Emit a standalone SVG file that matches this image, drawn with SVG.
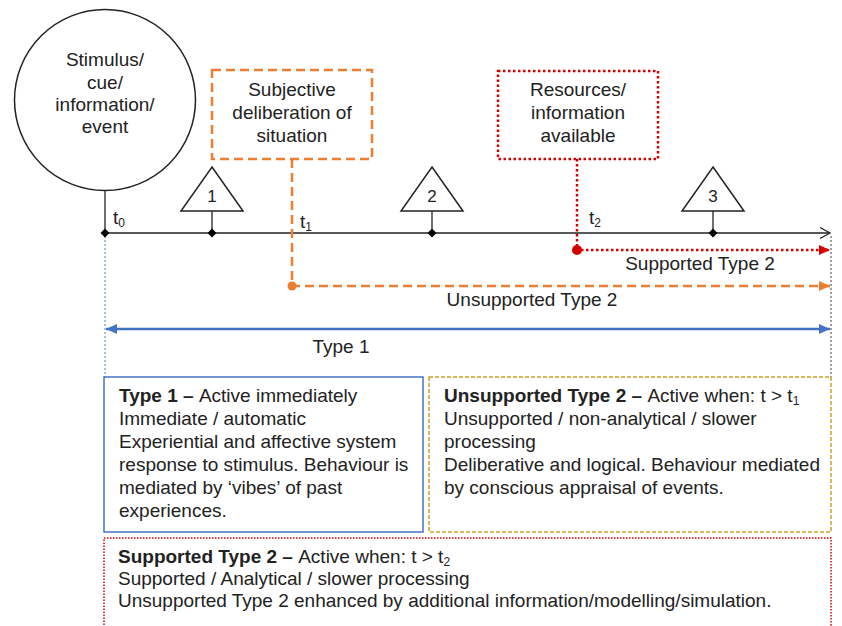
<svg xmlns="http://www.w3.org/2000/svg" width="842" height="626" viewBox="0 0 842 626">
<style>
text{font-family:"Liberation Sans",Arial,sans-serif;fill:#222;}
.lbl{font-size:19px;}
.c{text-anchor:middle;}
.b{font-weight:bold;}
.sub{font-size:12px;}
.tl{stroke:#222;stroke-width:1.3;fill:none;}
.tri{fill:#fff;stroke:#222;stroke-width:1.5;}
.dm{fill:#000;}
</style>
<defs>
<marker id="ahRed" markerUnits="userSpaceOnUse" markerWidth="11" markerHeight="10" refX="11" refY="5" orient="auto"><path d="M0,0 L11,5 L0,10 z" fill="#D40000"/></marker>
<marker id="ahOr" markerUnits="userSpaceOnUse" markerWidth="11" markerHeight="10" refX="11" refY="5" orient="auto"><path d="M0,0 L11,5 L0,10 z" fill="#ED7D31"/></marker>
<marker id="ahBl" markerUnits="userSpaceOnUse" markerWidth="11" markerHeight="10" refX="11" refY="5" orient="auto-start-reverse"><path d="M0,0 L11,5 L0,10 z" fill="#4472C4"/></marker>
</defs>

<g id="connectors">
  <line class="tl" x1="105" y1="190" x2="105" y2="233"/>
  <line class="tl" x1="105" y1="233" x2="830" y2="233"/>
  <polyline class="tl" points="820,227.5 830,233 820,238.5"/>
  <line class="tl" x1="212" y1="211" x2="212" y2="233"/>
  <line class="tl" x1="432" y1="211" x2="432" y2="233"/>
  <line class="tl" x1="713" y1="211" x2="713" y2="233"/>
  <line x1="105" y1="236" x2="105" y2="377" stroke="#8FAADC" stroke-width="1.5" stroke-dasharray="2 2"/>
  <line x1="831" y1="236" x2="831" y2="377" stroke="#7F7F7F" stroke-width="1.5" stroke-dasharray="2 2"/>
  <path d="M292,159 L292,286 L830,286" fill="none" stroke="#ED7D31" stroke-width="2.5" stroke-dasharray="9 5" marker-end="url(#ahOr)"/>
  <circle cx="292" cy="286" r="4.5" fill="#ED7D31"/>
  <path d="M577,159 L577,250 L830,250" fill="none" stroke="#D40000" stroke-width="2.5" stroke-dasharray="2.5 2.5" marker-end="url(#ahRed)"/>
  <circle cx="577" cy="250" r="5" fill="#D40000"/>
  <line x1="106" y1="329" x2="830" y2="329" stroke="#4472C4" stroke-width="2.5" marker-start="url(#ahBl)" marker-end="url(#ahBl)"/>
  <path class="dm" d="M105,228.5 L109.5,233 L105,237.5 L100.5,233 z"/>
  <path class="dm" d="M212,228.5 L216.5,233 L212,237.5 L207.5,233 z"/>
  <path class="dm" d="M432,228.5 L436.5,233 L432,237.5 L427.5,233 z"/>
  <path class="dm" d="M713,228.5 L717.5,233 L713,237.5 L708.5,233 z"/>
  <text class="lbl" x="113" y="224">t<tspan class="sub" dy="3">0</tspan></text>
  <text class="lbl" x="300" y="228">t<tspan class="sub" dy="3">1</tspan></text>
  <text class="lbl" x="589" y="224">t<tspan class="sub" dy="3">2</tspan></text>
  <text class="lbl c" x="700" y="270">Supported Type 2</text>
  <text class="lbl c" x="532" y="306">Unsupported Type 2</text>
  <text class="lbl c" x="341" y="353">Type 1</text>
</g>

<g id="stimulus">
  <circle cx="105" cy="100" r="90.5" fill="#fff" stroke="#222" stroke-width="1.5"/>
  <text class="c" x="105" y="66" font-size="19">Stimulus/</text>
  <text class="c" x="105" y="88.5" font-size="19">cue/</text>
  <text class="c" x="105" y="111" font-size="19">information/</text>
  <text class="c" x="105" y="133" font-size="19">event</text>
</g>

<g id="deliberation">
  <rect x="212" y="70" width="160" height="89" fill="#fff" stroke="#ED7D31" stroke-width="2.5" stroke-dasharray="9 5"/>
  <text class="lbl c" x="292" y="96">Subjective</text>
  <text class="lbl c" x="292" y="119">deliberation of</text>
  <text class="lbl c" x="292" y="142">situation</text>
</g>

<g id="resources">
  <rect x="498" y="71" width="160" height="88" fill="#fff" stroke="#D40000" stroke-width="2.5" stroke-dasharray="2.5 2.5"/>
  <text class="lbl c" x="578" y="96">Resources/</text>
  <text class="lbl c" x="578" y="119">information</text>
  <text class="lbl c" x="578" y="142">available</text>
</g>

<g id="tri1">
  <polygon class="tri" points="212,167 243,211 181,211"/>
  <text class="c" x="212" y="202" font-size="17">1</text>
</g>
<g id="tri2">
  <polygon class="tri" points="432,167 463,211 401,211"/>
  <text class="c" x="432" y="202" font-size="17">2</text>
</g>
<g id="tri3">
  <polygon class="tri" points="713,167 744,211 682,211"/>
  <text class="c" x="713" y="202" font-size="17">3</text>
</g>

<g id="type1-box">
  <rect x="104" y="377" width="319" height="155" fill="#fff" stroke="#4472C4" stroke-width="1.5"/>
  <text class="lbl" x="119" y="402"><tspan class="b">Type 1 – </tspan>Active immediately</text>
  <text class="lbl" x="119" y="425">Immediate / automatic</text>
  <text class="lbl" x="119" y="448">Experiential and affective system</text>
  <text class="lbl" x="119" y="471">response to stimulus. Behaviour is</text>
  <text class="lbl" x="119" y="494">mediated by ‘vibes’ of past</text>
  <text class="lbl" x="119" y="517">experiences.</text>
</g>

<g id="unsupported-box">
  <rect x="429" y="377" width="402" height="155" fill="#fff" stroke="#C9A227" stroke-width="1.5" stroke-dasharray="4 2"/>
  <text class="lbl" x="444" y="402"><tspan class="b">Unsupported Type 2 – </tspan>Active when: t &gt; t<tspan class="sub" dy="3">1</tspan></text>
  <text class="lbl" x="444" y="425">Unsupported / non-analytical / slower</text>
  <text class="lbl" x="444" y="448">processing</text>
  <text class="lbl" x="444" y="471">Deliberative and logical. Behaviour mediated</text>
  <text class="lbl" x="444" y="494">by conscious appraisal of events.</text>
</g>

<g id="supported-box">
  <rect x="104" y="538" width="727" height="110" fill="#fff" stroke="#D40000" stroke-width="1.5" stroke-dasharray="1.5 1.5"/>
  <text class="lbl" x="118" y="563"><tspan class="b">Supported Type 2 – </tspan>Active when: t &gt; t<tspan class="sub" dy="3">2</tspan></text>
  <text class="lbl" x="118" y="585">Supported / Analytical / slower processing</text>
  <text class="lbl" x="118" y="607">Unsupported Type 2 enhanced by additional information/modelling/simulation.</text>
</g>
</svg>
